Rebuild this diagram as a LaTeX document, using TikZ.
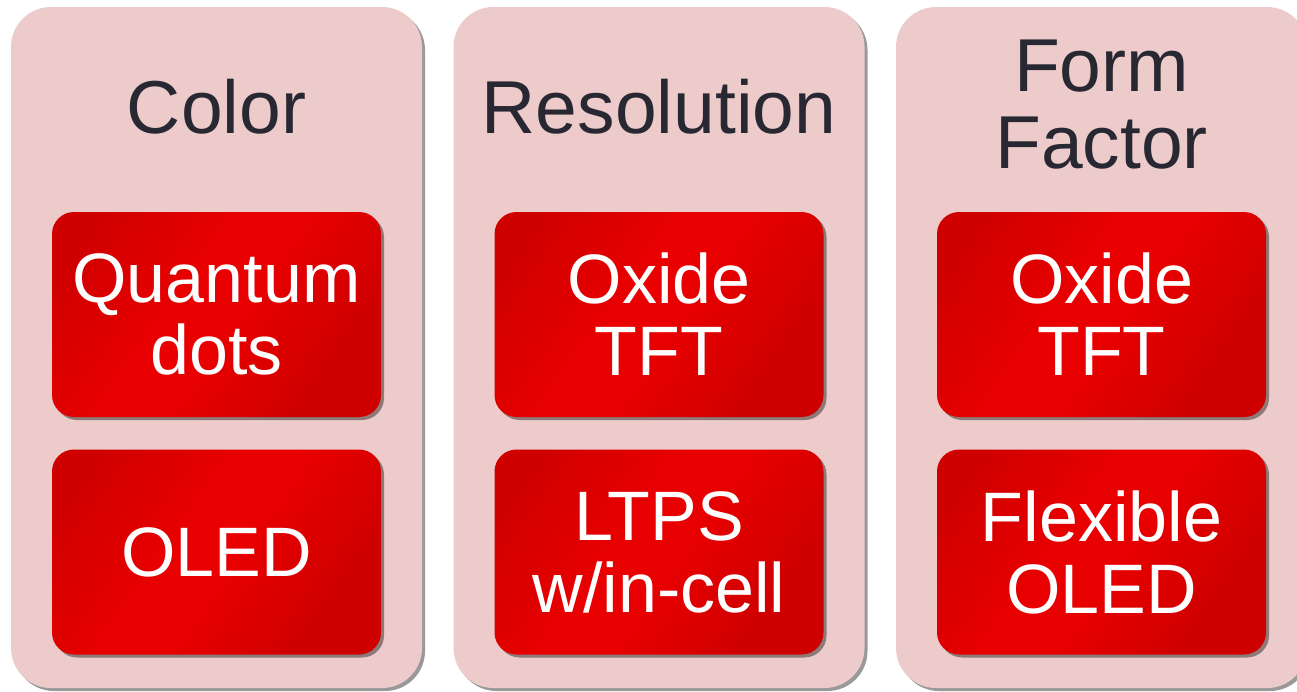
\documentclass[tikz,border=0pt]{standalone}
\usepackage{fontspec}
\setmainfont{Liberation Sans}
\usetikzlibrary{shadows}
\definecolor{panelpink}{RGB}{237,203,203}
\definecolor{titlegray}{RGB}{40,40,51}
\definecolor{reddark}{RGB}{207,0,0}
\definecolor{redbright}{RGB}{233,0,0}
\pgfdeclarehorizontalshading{redband}{100bp}{color(0bp)=(reddark); color(22bp)=(reddark); color(44bp)=(redbright); color(52bp)=(redbright); color(72bp)=(reddark); color(100bp)=(reddark)}
\tikzset{
  panel/.style={rectangle, rounded corners=40pt, fill=panelpink, minimum width=411pt, minimum height=681pt, inner sep=0pt,
    drop shadow={shadow xshift=3pt, shadow yshift=-3pt, fill=black, opacity=0.4}},
  title/.style={inner sep=0pt, text=titlegray, align=center, font=\fontsize{75}{77}\selectfont},
  redbox/.style={rectangle, rounded corners=22pt, shading=redband, shading angle=-35, minimum width=329pt, minimum height=205pt,
    inner sep=0pt, text=white, align=center, font=\fontsize{70}{72}\selectfont,
    drop shadow={shadow xshift=3pt, shadow yshift=-3pt, fill=black, opacity=0.4}}
}
\begin{document}
\begin{tikzpicture}[x=1pt, y=-1pt]
\useasboundingbox (0,0) rectangle (1297,691);
\clip (0,0) rectangle (1297,691);
% panels
\node[panel] (p1) at (216.5,347.5) {};
\node[panel] (p2) at (659,347.5) {};
\node[panel] (p3) at (1101.5,347.5) {};
% titles
\node[title, anchor=base] (t1) at (216.5,133) {Color};
\node[title, anchor=base] (t2) at (659,133) {Resolution};
\node[title] (t3) at (1101.5,104.5) {Form\\Factor};
% boxes
\node[redbox] (b11) at (216.5,314.5) {Quantum\\dots};
\node[redbox] (b12) at (216.5,552) {OLED};
\node[redbox] (b21) at (659,314.5) {Oxide\\TFT};
\node[redbox] (b22) at (659,552) {LTPS\\w\smash{/}in-cell};
\node[redbox] (b31) at (1101.5,314.5) {Oxide\\TFT};
\node[redbox] (b32) at (1101.5,552) {Flexible\\OLED};
\end{tikzpicture}
\end{document}
